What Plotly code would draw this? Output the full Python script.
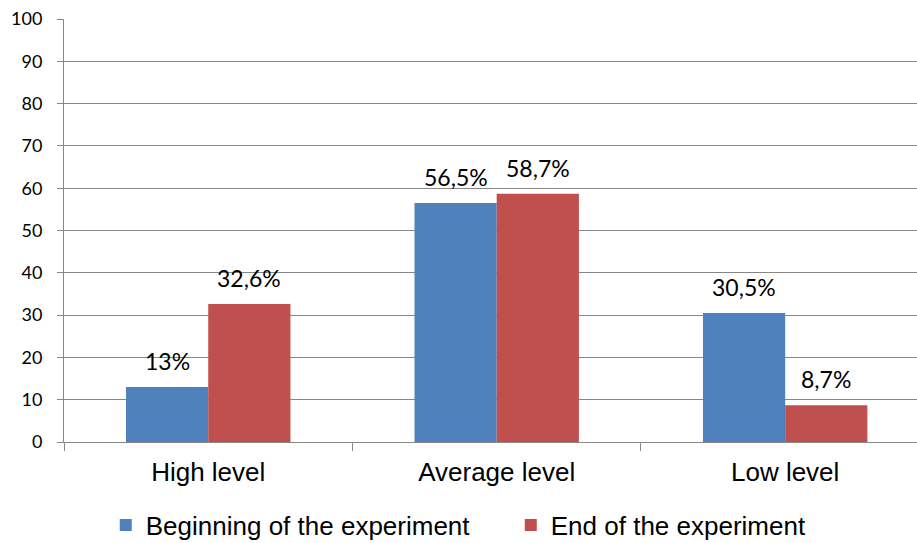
import plotly.graph_objects as go

categories = ["High level", "Average level", "Low level"]
series_names = ["Beginning of the experiment", "End of the experiment"]
beginning = [13, 56.5, 30.5]
end = [32.6, 58.7, 8.7]
beginning_labels = ["13%", "56,5%", "30,5%"]
end_labels = ["32,6%", "58,7%", "8,7%"]
y_ticks = [0, 10, 20, 30, 40, 50, 60, 70, 80, 90, 100]

colors = ["#4F81BD", "#C0504D"]
grid = "#878787"
num_font = "Lato, Carlito, Calibri, sans-serif"
txt_font = "Liberation Sans, Arial, sans-serif"

fig = go.Figure()
series = [
    (series_names[0], beginning, beginning_labels, colors[0]),
    (series_names[1], end, end_labels, colors[1]),
]
for name, vals, labs, col in series:
    fig.add_trace(go.Bar(
        x=categories, y=vals, name=name, marker=dict(color=col, line=dict(width=0)),
        offsetgroup=name,
    ))

# data labels above each bar (offset to the bar's half of the group)
bar_px = 82
for si, (name, vals, labs, col) in enumerate(series):
    shift = (-0.5 if si == 0 else 0.5) * bar_px
    for cat, v, lab in zip(categories, vals, labs):
        fig.add_annotation(
            x=cat, y=v, text=lab, showarrow=False, xanchor="center", yanchor="bottom",
            xshift=shift, yshift=10,
            font=dict(family=num_font, size=23, color="#000000"),
        )

fig.update_layout(
    barmode="group",
    bargap=0.43,
    bargroupgap=0,
    width=917, height=543,
    margin=dict(l=64, r=0, t=19, b=101),
    paper_bgcolor="white", plot_bgcolor="white",
    showlegend=True,
    legend=dict(
        orientation="h", xref="container", yref="container",
        x=0.557, xanchor="center", y=0.033, yanchor="middle",
        font=dict(family=txt_font, size=26, color="#000000"),
        itemwidth=30, traceorder="normal", entrywidth=360,
    ),
)
fig.update_xaxes(
    range=[-0.5, 2.457],
    showline=True, linecolor=grid, linewidth=1,
    ticks="outside", tickson="boundaries", ticklen=8, tickcolor=grid,
    ticklabelstandoff=7,
    tickfont=dict(family=txt_font, size=26, color="#000000"),
    showgrid=False,
)
fig.update_yaxes(
    range=[0, 100], tickvals=y_ticks,
    showline=True, linecolor=grid, linewidth=1,
    ticks="outside", ticklen=6, tickcolor=grid,
    ticklabelstandoff=11,
    showgrid=True, gridcolor=grid, gridwidth=1,
    zeroline=False,
    tickfont=dict(family=num_font, size=18, color="#000000"),
)

fig.write_html("out.html")
